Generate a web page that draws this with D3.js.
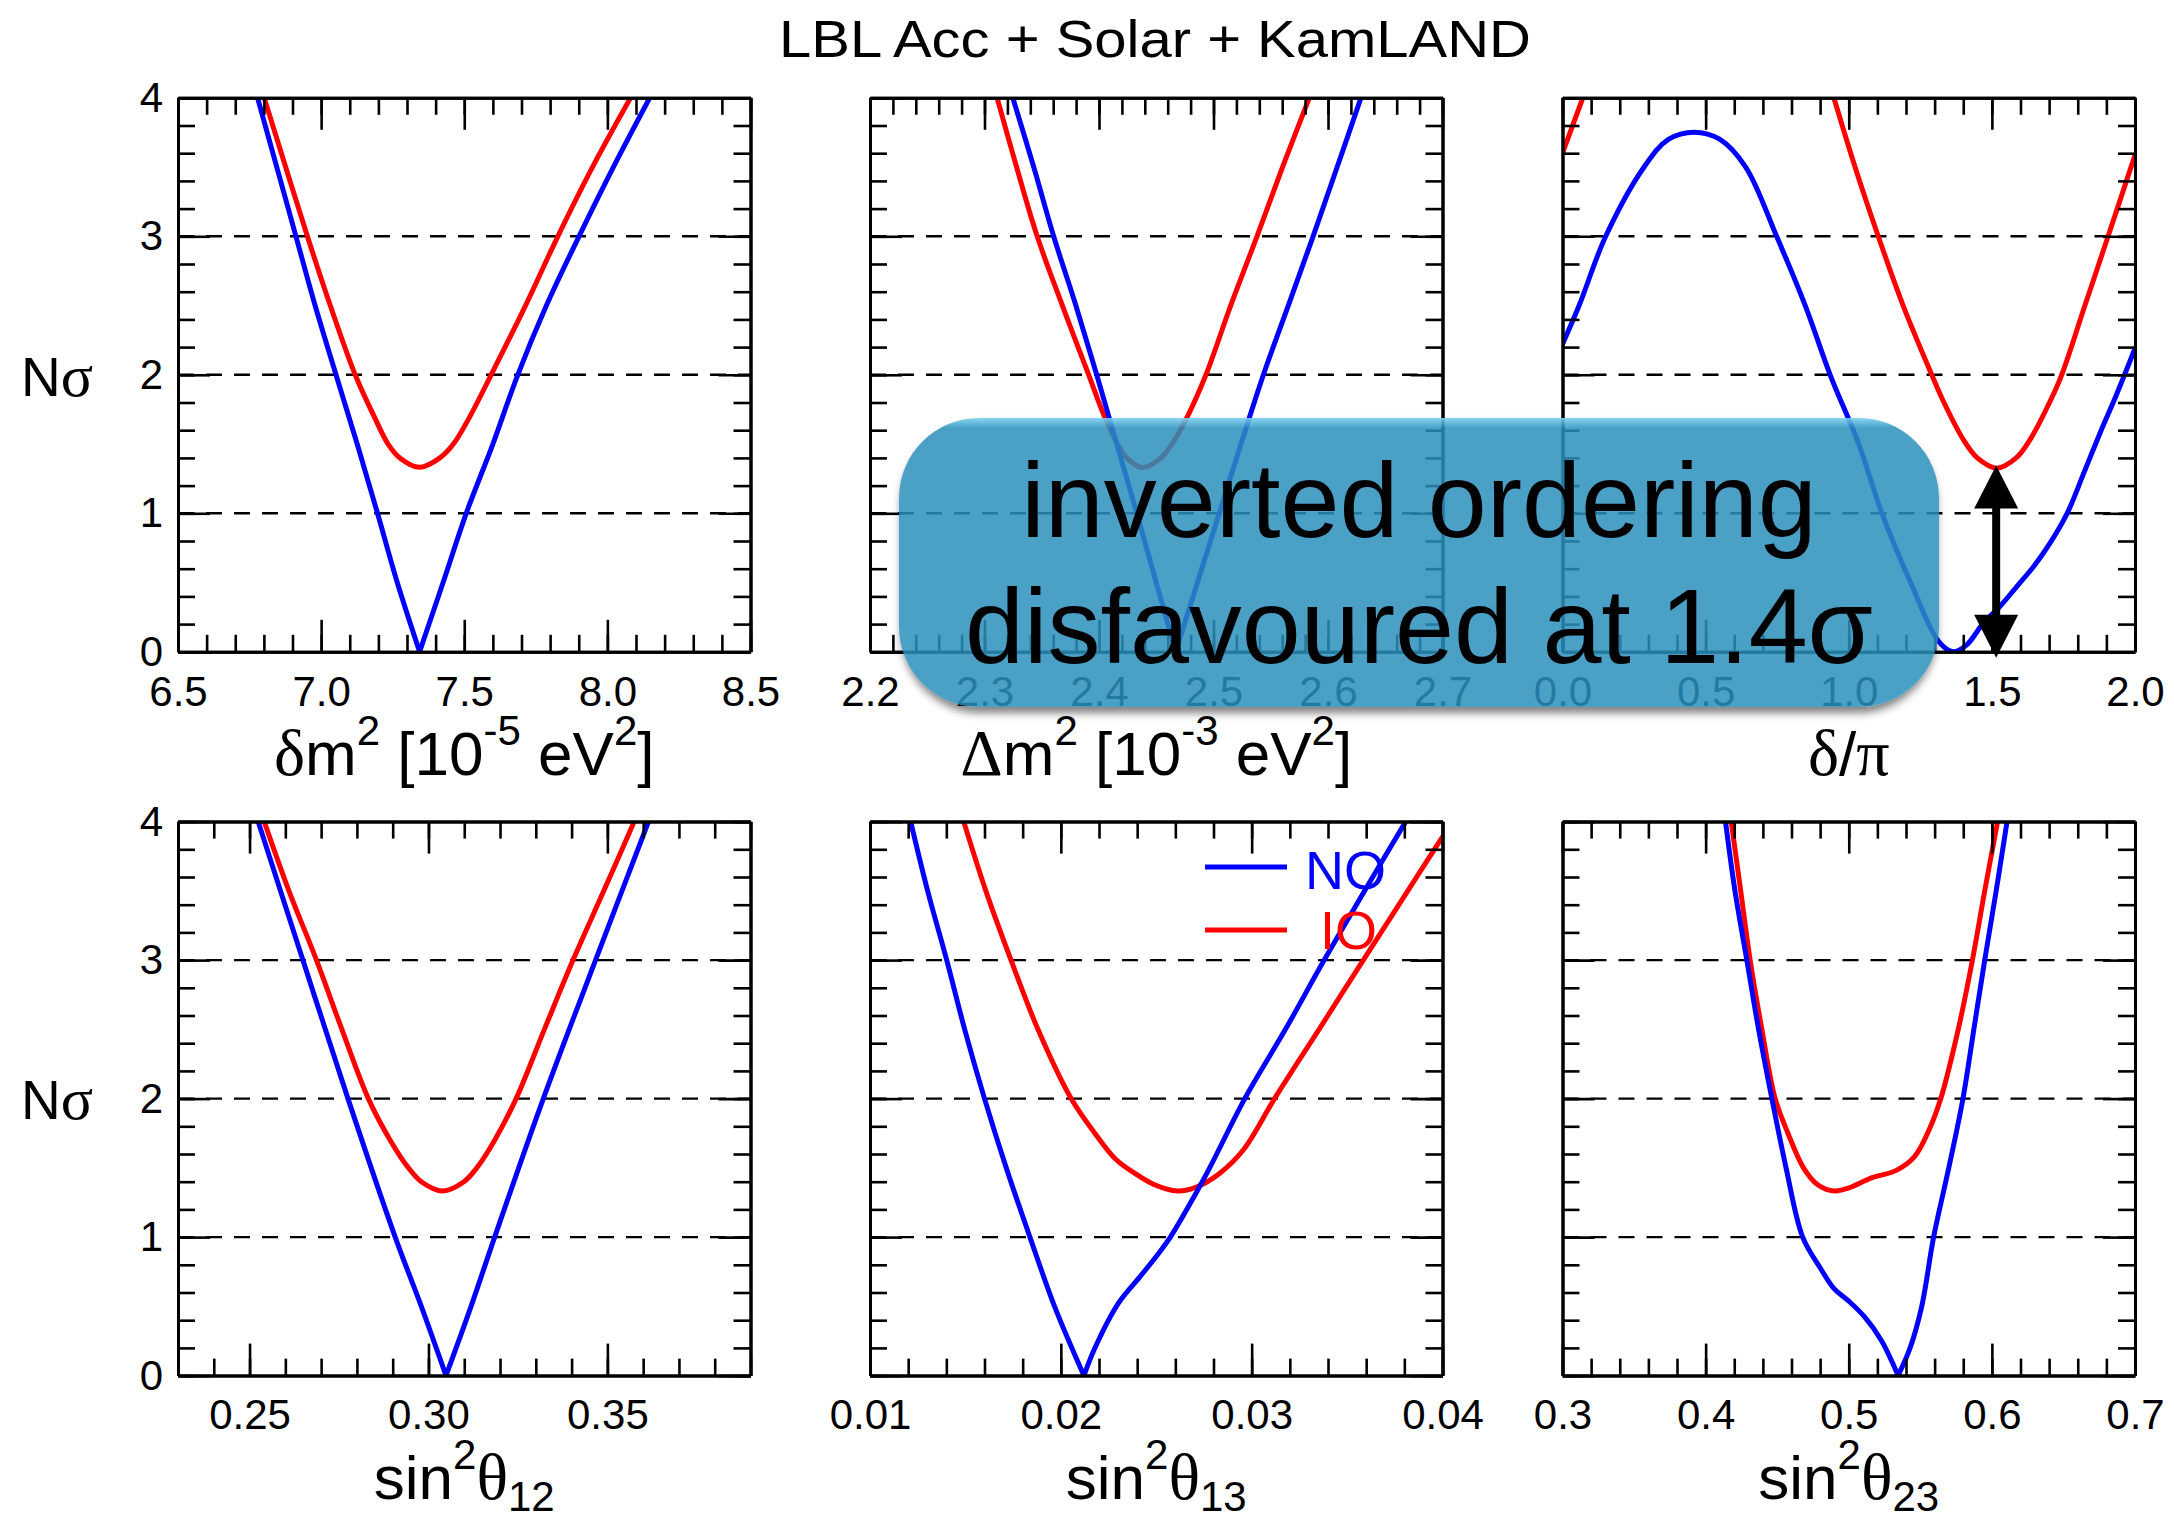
<!DOCTYPE html>
<html>
<head>
<meta charset="utf-8">
<script src="https://cdn.jsdelivr.net/npm/d3@7"></script>
<style>
body { margin: 0; background: #fff; }
svg { display: block; font-family: "Liberation Sans", Arial, Helvetica, sans-serif; }
.frame .domain { stroke: #000; stroke-width: 3; }
.frame .tick line { stroke: #000; stroke-width: 2.6; }
.frame text { font-family: "Liberation Sans", Arial, sans-serif; font-size: 42px; fill: #000; }
.grid { stroke: #000; stroke-width: 2.4; stroke-dasharray: 16 12; }
.curve { fill: none; stroke-width: 5; stroke-linejoin: round; stroke-linecap: round; }
</style>
</head>
<body>
<svg id="svg" width="2174" height="1522"></svg>
<script>
// ---- data ----
const title = "LBL Acc + Solar + KamLAND";
const yTicks = [0, 1, 2, 3, 4];
const gridLevels = [1, 2, 3];

// delta m^2_21 [1e-5 eV^2]
const dm21Ticks = [6.5, 7.0, 7.5, 8.0, 8.5];
const dm21NO = [[6.778,4],[6.845,3.5],[6.912,3],[6.979,2.5],[7.052,2],[7.126,1.5],[7.197,1],[7.266,0.5],[7.344,0],
  [7.426,0.5],[7.507,1],[7.600,1.5],[7.687,2],[7.787,2.5],[7.901,3],[8.021,3.5],[8.148,4]];
const dm21IO = [[6.801,4],[6.876,3.5],[6.952,3],[7.032,2.5],[7.119,2],[7.185,1.7],[7.234,1.5],[7.275,1.4],
  [7.344,1.332],[7.415,1.4],[7.462,1.5],[7.52,1.7],[7.594,2],[7.714,2.5],[7.827,3],[7.948,3.5],[8.081,4]];

// Delta m^2 [1e-3 eV^2]
const dm31Ticks = [2.2, 2.3, 2.4, 2.5, 2.6, 2.7];
const dm31NO = [[2.3247,4],[2.343,3.5],[2.3604,3],[2.3798,2.5],[2.398,2],[2.4155,1.5],[2.433,1],[2.450,0.5],[2.467,0],
  [2.486,0.5],[2.505,1],[2.524,1.5],[2.5436,2],[2.5653,2.5],[2.587,3],[2.608,3.5],[2.6288,4]];
const dm31IO = [[2.311,4],[2.328,3.5],[2.346,3],[2.368,2.5],[2.391,2],[2.4047,1.7],[2.4162,1.5],[2.4242,1.4],
  [2.438,1.33],[2.4542,1.4],[2.4637,1.5],[2.4773,1.7],[2.4934,2],[2.515,2.5],[2.538,3],[2.5603,3.5],[2.5837,4]];

// delta_CP / pi
const deltaTicks = [0, 0.5, 1.0, 1.5, 2.0];
const deltaNO = [[0,2.221],[0.058,2.5],[0.151,3],[0.285,3.5],[0.37,3.70],[0.46,3.752],[0.55,3.70],[0.64,3.5],[0.748,3],
  [0.848,2.5],[0.935,2],[1.035,1.5],[1.116,1],[1.216,0.5],[1.316,0.069],[1.365,0],[1.412,0.05],[1.47,0.207],
  [1.528,0.327],[1.587,0.471],[1.646,0.616],[1.703,0.785],[1.763,1.0],[1.821,1.29],[1.878,1.58],[1.936,1.86],[2,2.19]];
const deltaIO = [[0,3.6],[0.071,4],null,[0.948,4],[1.022,3.5],[1.103,3],[1.19,2.5],[1.29,2],[1.328,1.82],[1.401,1.53],
  [1.449,1.4],[1.517,1.326],[1.585,1.4],[1.633,1.53],[1.706,1.82],[1.744,2],[1.825,2.5],[1.906,3],[2,3.586]];

// sin^2 theta_12
const s12Ticks = [0.25, 0.30, 0.35];
const s12NO = [[0.2524,4],[0.2649,3],[0.2775,2],[0.2907,1],[0.298,0.5],[0.3049,0],[0.3119,0.5],[0.3185,1],
  [0.3321,2],[0.3467,3],[0.3615,4]];
const s12IO = [[0.2541,4],[0.261,3.5],[0.2687,3],[0.2758,2.5],[0.2832,2],[0.2893,1.7],[0.2944,1.5],[0.298,1.4],
  [0.304,1.333],[0.3099,1.4],[0.3135,1.5],[0.3185,1.7],[0.3245,2],[0.3324,2.5],[0.3404,3],[0.349,3.5],[0.3575,4]];

// sin^2 theta_13
const s13Ticks = [0.01, 0.02, 0.03, 0.04];
const s13NO = [[0.01213,4],[0.01302,3.5],[0.01402,3],[0.01496,2.5],[0.0160,2],[0.01714,1.5],[0.01838,1],[0.01967,0.5],
  [0.02121,0],[0.02178,0.198],[0.02302,0.523],[0.02413,0.711],[0.02512,0.882],[0.02574,1.0],[0.02698,1.292],
  [0.0278,1.5],[0.02964,2],[0.03177,2.5],[0.0338,3],[0.03592,3.5],[0.03807,4]];
const s13IO = [[0.01491,4],[0.01607,3.5],[0.01739,3],[0.0188,2.5],[0.02054,2],[0.02178,1.75],[0.02289,1.56],
  [0.02388,1.46],[0.02488,1.38],[0.02612,1.333],[0.0271,1.361],[0.02835,1.463],[0.02959,1.634],[0.0312,2],
  [0.03353,2.5],[0.03585,3],[0.03818,3.5],[0.04,3.89]];

// sin^2 theta_23
const s23Ticks = [0.3, 0.4, 0.5, 0.6, 0.7];
const s23NO = [[0.4139,4],[0.4205,3.5],[0.4288,3],[0.437,2.5],[0.4463,2],[0.4562,1.5],[0.4678,1],[0.48,0.779],
  [0.4899,0.626],[0.4998,0.54],[0.5114,0.42],[0.523,0.25],[0.5345,0],[0.5428,0.198],[0.551,0.5],[0.5593,1],
  [0.5699,1.5],[0.5798,2],[0.5874,2.5],[0.595,3],[0.603,3.5],[0.6106,4]];
const s23IO = [[0.4179,4],[0.4245,3.5],[0.4311,3],[0.4393,2.5],[0.4486,2],[0.4575,1.75],[0.4684,1.5],[0.4783,1.378],
  [0.4899,1.333],[0.4998,1.354],[0.5164,1.429],[0.5329,1.48],[0.5461,1.583],[0.556,1.771],[0.5643,2],
  [0.5765,2.5],[0.5864,3],[0.595,3.5],[0.604,4]];

const legendNames = ["NO", "IO"];
const noteLines = ["inverted ordering", "disfavoured at 1.4\u03c3"];
const arrowAt = 1.515, arrowFrom = 0, arrowTo = 1.33;

// ---- layout ----
const colX = [178, 870, 1562.5];
const rowY = [97.8, 821.6];
const W = 572.5, H = 554;
const BLUE = "#0000ff", RED = "#ff0000";

const panels = [
  {col:0,row:0,domain:[6.5,8.5],ticks:dm21Ticks,minor:0.1,fmt:".1f",no:dm21NO,io:dm21IO,sharp:true,
   label:[["\u03b4","g"],["m"],["2","sup"],[" [10"],["-5","sup"],[" eV"],["2","sup"],["]"]]},
  {col:1,row:0,domain:[2.2,2.7],ticks:dm31Ticks,minor:0.02,fmt:".1f",no:dm31NO,io:dm31IO,sharp:true,
   label:[["\u0394","g"],["m"],["2","sup"],[" [10"],["-3","sup"],[" eV"],["2","sup"],["]"]]},
  {col:2,row:0,domain:[0,2],ticks:deltaTicks,minor:0.1,fmt:".1f",no:deltaNO,io:deltaIO,sharp:false,
   label:[["\u03b4","g"],["/"],["\u03c0","g"]]},
  {col:0,row:1,domain:[0.23,0.39],ticks:s12Ticks,minor:0.01,fmt:".2f",no:s12NO,io:s12IO,sharp:true,
   label:[["sin"],["2","sup"],["\u03b8","g"],["12","sub"]]},
  {col:1,row:1,domain:[0.01,0.04],ticks:s13Ticks,minor:0.002,fmt:".2f",no:s13NO,io:s13IO,sharp:true,legend:true,
   label:[["sin"],["2","sup"],["\u03b8","g"],["13","sub"]]},
  {col:2,row:1,domain:[0.3,0.7],ticks:s23Ticks,minor:0.02,fmt:".1f",no:s23NO,io:s23IO,sharp:true,
   label:[["sin"],["2","sup"],["\u03b8","g"],["23","sub"]]}
];

const svg = d3.select('#svg');
const defs = svg.append('defs');

svg.append('text')
  .attr('x', 1155).attr('y', 57)
  .attr('text-anchor', 'middle')
  .attr('textLength', 752).attr('lengthAdjust', 'spacingAndGlyphs')
  .style('font-size', '52px')
  .text(title);

function steps(d0, d1, s) {
  const n = Math.round((d1 - d0) / s);
  return d3.range(n + 1).map(i => d0 + i * s);
}

// split a curve into two pieces at its zero, so the V keeps its sharp tip
function pieces(arr, sharp) {
  if (!sharp) return [arr];
  const i = arr.findIndex(d => d && d[1] === 0);
  if (i < 0) return [arr];
  return [arr.slice(0, i + 1), arr.slice(i)];
}

function axisLabel(g, segs, cx, cy) {
  const t = g.append('text').attr('x', cx).attr('y', cy).attr('text-anchor', 'middle')
    .style('font-size', '62px');
  let off = 0;
  segs.forEach(s => {
    const kind = s[1];
    const target = kind === 'sup' ? -30 : kind === 'sub' ? 12 : 0;
    const ts = t.append('tspan').attr('dy', target - off).text(s[0]);
    if (kind === 'sup' || kind === 'sub') ts.style('font-size', '42px');
    if (kind === 'g') ts.style('font-family', '"Liberation Serif", "DejaVu Serif", serif').style('font-size', '66px');
    off = target;
  });
}

function drawPanel(p, idx) {
  const g = svg.append('g').attr('transform', 'translate(' + colX[p.col] + ',' + rowY[p.row] + ')');
  const x = d3.scaleLinear().domain(p.domain).range([0, W]);
  const y = d3.scaleLinear().domain([0, 4]).range([H, 0]);

  defs.append('clipPath').attr('id', 'clip' + idx)
    .append('rect').attr('width', W).attr('height', H);

  // dashed levels
  g.selectAll('line.grid').data(gridLevels).join('line')
    .attr('class', 'grid')
    .attr('x1', 0).attr('x2', W)
    .attr('y1', d => y(d)).attr('y2', d => y(d));

  const line = d3.line()
    .defined(d => d != null)
    .x(d => x(d[0])).y(d => y(d[1]))
    .curve(d3.curveCatmullRom.alpha(0.5));

  const cg = g.append('g').attr('clip-path', 'url(#clip' + idx + ')');
  [[p.io, RED, false], [p.no, BLUE, p.sharp]].forEach(s => {
    pieces(s[0], s[2]).forEach(part => {
      cg.append('path').attr('class', 'curve').attr('stroke', s[1]).attr('d', line(part));
    });
  });

  const minorX = steps(p.domain[0], p.domain[1], p.minor);
  const minorY = steps(0, 4, 0.2);

  // bottom
  g.append('g').attr('class', 'frame').attr('transform', 'translate(0,' + H + ')')
    .call(d3.axisBottom(x).tickValues(minorX).tickSize(-17).tickSizeOuter(0).tickFormat(''));
  g.append('g').attr('class', 'frame').attr('transform', 'translate(0,' + H + ')')
    .call(d3.axisBottom(x).tickValues(p.ticks).tickSize(-32).tickSizeOuter(0).tickPadding(24)
      .tickFormat(d3.format(p.fmt)));
  // top
  g.append('g').attr('class', 'frame')
    .call(d3.axisTop(x).tickValues(minorX).tickSize(-17).tickSizeOuter(0).tickFormat(''));
  g.append('g').attr('class', 'frame')
    .call(d3.axisTop(x).tickValues(p.ticks).tickSize(-32).tickSizeOuter(0).tickFormat(''));
  // left
  g.append('g').attr('class', 'frame')
    .call(d3.axisLeft(y).tickValues(minorY).tickSize(-17).tickSizeOuter(0).tickFormat(''));
  g.append('g').attr('class', 'frame')
    .call(d3.axisLeft(y).tickValues(yTicks).tickSize(-32).tickSizeOuter(0).tickPadding(15)
      .tickFormat(p.col === 0 ? d3.format('d') : ''));
  // right
  g.append('g').attr('class', 'frame').attr('transform', 'translate(' + W + ',0)')
    .call(d3.axisRight(y).tickValues(minorY).tickSize(-17).tickSizeOuter(0).tickFormat(''));
  g.append('g').attr('class', 'frame').attr('transform', 'translate(' + W + ',0)')
    .call(d3.axisRight(y).tickValues(yTicks).tickSize(-32).tickSizeOuter(0).tickFormat(''));

  axisLabel(g, p.label, W / 2, H + 123);

  if (p.col === 0) {
    const t = g.append('text').attr('x', 21 - colX[0]).attr('y', y(1.85)).style('font-size', '55px');
    t.append('tspan').text('N');
    t.append('tspan').style('font-family', '"Liberation Serif", serif').style('font-size', '60px').text('\u03c3');
  }

  if (p.legend) {
    const lg = g.append('g');
    [[BLUE, 45.5, 67.8, 435], [RED, 108.5, 127.4, 450]].forEach((s, i) => {
      lg.append('line').attr('x1', 335).attr('x2', 417).attr('y1', s[1]).attr('y2', s[1])
        .attr('stroke', s[0]).attr('stroke-width', 5);
      lg.append('text').attr('x', s[3]).attr('y', s[2]).attr('fill', s[0])
        .style('font-size', '54px').text(legendNames[i]);
    });
  }
  return {g: g, x: x, y: y};
}

const drawn = panels.map(drawPanel);

// ---- annotation box ----
const box = {x: 899, y: 418, w: 1040, h: 289, r: 80};

const grad = defs.append('linearGradient').attr('id', 'boxFill')
  .attr('x1', 0).attr('y1', 0).attr('x2', 0).attr('y2', 1);
grad.append('stop').attr('offset', '0%').attr('stop-color', '#7fd2f2').attr('stop-opacity', 0.92);
grad.append('stop').attr('offset', '3.5%').attr('stop-color', '#2b8fbc').attr('stop-opacity', 0.85);
grad.append('stop').attr('offset', '100%').attr('stop-color', '#2b8fbc').attr('stop-opacity', 0.85);

const blur = defs.append('filter').attr('id', 'shadowBlur')
  .attr('x', -0.1).attr('y', -0.1).attr('width', 1.2).attr('height', 1.3);
blur.append('feGaussianBlur').attr('stdDeviation', 4);

const mask = defs.append('mask').attr('id', 'outsideBox');
mask.append('rect').attr('width', 2174).attr('height', 1522).attr('fill', '#fff');
mask.append('rect').attr('x', box.x).attr('y', box.y).attr('width', box.w).attr('height', box.h)
  .attr('rx', box.r).attr('fill', '#000');

svg.append('g').attr('mask', 'url(#outsideBox)')
  .append('rect').attr('x', box.x + 2).attr('y', box.y + 6).attr('width', box.w - 4).attr('height', box.h)
  .attr('rx', box.r).attr('fill', '#000').attr('opacity', 0.5).attr('filter', 'url(#shadowBlur)');

svg.append('rect').attr('x', box.x).attr('y', box.y).attr('width', box.w).attr('height', box.h)
  .attr('rx', box.r).attr('fill', 'url(#boxFill)');

svg.selectAll('text.note').data(noteLines).join('text')
  .attr('class', 'note')
  .attr('x', box.x + box.w / 2)
  .attr('y', (d, i) => 537 + i * 126)
  .attr('text-anchor', 'middle')
  .style('font-size', '106px')
  .text(d => d);

// ---- double arrow in the delta panel ----
const dp = drawn[2];
const ax = dp.x(arrowAt), yTop = dp.y(arrowTo) - 2, yBot = dp.y(arrowFrom) + 6;
const headL = 43, headW = 22;
const ag = dp.g.append('g');
ag.append('line').attr('x1', ax).attr('x2', ax).attr('y1', yTop + headL - 4).attr('y2', yBot - headL + 4)
  .attr('stroke', '#000').attr('stroke-width', 8);
ag.append('path').attr('fill', '#000')
  .attr('d', 'M' + ax + ',' + yTop + 'L' + (ax - headW) + ',' + (yTop + headL) + 'L' + (ax + headW) + ',' + (yTop + headL) + 'Z');
ag.append('path').attr('fill', '#000')
  .attr('d', 'M' + ax + ',' + yBot + 'L' + (ax - headW) + ',' + (yBot - headL) + 'L' + (ax + headW) + ',' + (yBot - headL) + 'Z');
</script>
</body>
</html>
